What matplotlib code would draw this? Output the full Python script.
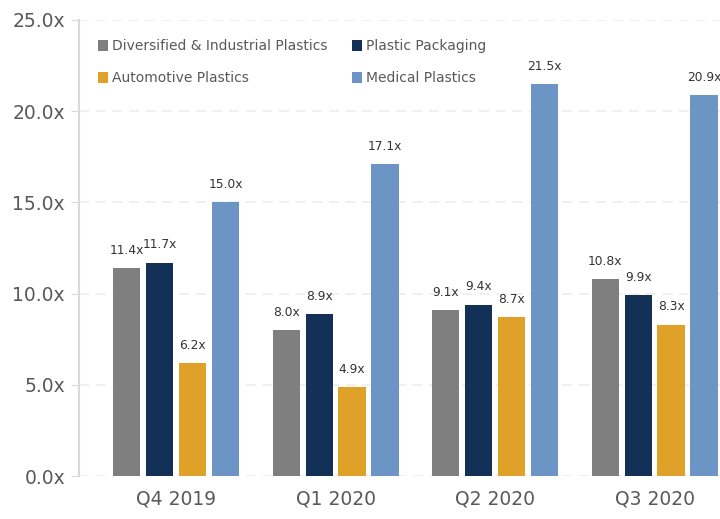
import matplotlib
matplotlib.use("Agg")
import matplotlib.pyplot as plt
import numpy as np

categories = ["Q4 2019", "Q1 2020", "Q2 2020", "Q3 2020"]
series_names = ["Diversified & Industrial Plastics", "Plastic Packaging",
                "Automotive Plastics", "Medical Plastics"]
diversified = [11.4, 8.0, 9.1, 10.8]
packaging = [11.7, 8.9, 9.4, 9.9]
automotive = [6.2, 4.9, 8.7, 8.3]
medical = [15.0, 17.1, 21.5, 20.9]
y_ticks = [0, 5, 10, 15, 20, 25]

colors = ["#7f7f7f", "#133156", "#dfa127", "#6c95c6"]
txt = "#595959"

fig = plt.figure(figsize=(7.2, 5.19), dpi=100)
ax = fig.add_axes([79/720, 43/519, 641/720, 456/519])

x = np.arange(len(categories))
width = 0.17
offsets = [-0.31, -0.103, 0.103, 0.31]
all_series = [diversified, packaging, automotive, medical]
handles = []
for vals, off, c, name in zip(all_series, offsets, colors, series_names):
    b = ax.bar(x + off, vals, width, color=c, label=name, zorder=3)
    handles.append(b)
    for xi, v in zip(x + off, vals):
        ax.annotate(f"{v:.1f}x", (xi, v), xytext=(0, 8), textcoords="offset points",
                    ha="center", va="bottom", fontsize=8.8, color="#333333")

ax.set_xlim(-0.608, 3.41)
ax.set_ylim(0, 25)
ax.set_yticks(y_ticks)
ax.set_yticklabels([f"{t:.1f}x" for t in y_ticks], fontsize=13.5, color=txt)
ax.set_xticks(x)
ax.set_xticklabels(categories, fontsize=13.5, color=txt)
ax.tick_params(axis="x", length=0, pad=10)
ax.tick_params(axis="y", length=6, color="#d9d9d9", pad=4)
for sp in ["top", "right", "bottom"]:
    ax.spines[sp].set_visible(False)
ax.spines["left"].set_color("#d9d9d9")
ax.spines["left"].set_linewidth(1.5)
ax.yaxis.grid(True, linestyle=(0, (6, 4)), color="#eeeeee", linewidth=1.2, zorder=0)
ax.set_axisbelow(True)

order = [0, 2, 1, 3]
leg = ax.legend(handles=[handles[i] for i in order],
                labels=[series_names[i] for i in order], ncol=2, loc="upper left",
                bbox_to_anchor=(0.01, 0.985), frameon=False, fontsize=10,
                handlelength=0.75, handleheight=0.75, handletextpad=0.3,
                columnspacing=1.7, labelspacing=1.3, labelcolor=txt)

fig.savefig("out.png", dpi=100)
